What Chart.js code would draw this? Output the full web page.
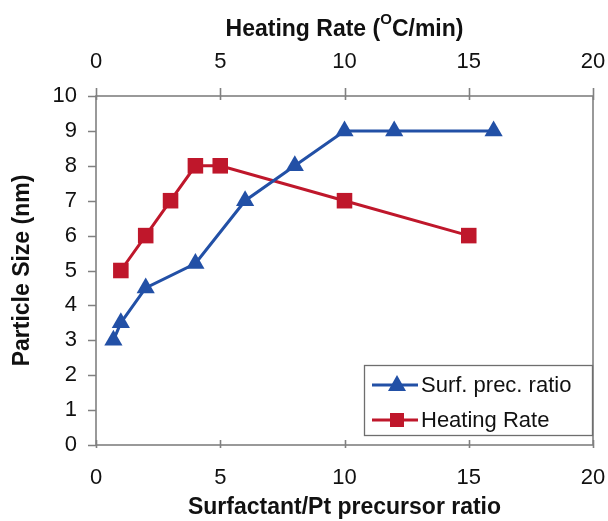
<!DOCTYPE html>
<html>
<head>
<meta charset="utf-8">
<script src="https://cdn.jsdelivr.net/npm/chart.js@4"></script>
<style>
html,body{margin:0;padding:0;background:#fff;}
#c{display:block;}
</style>
</head>
<body>
<canvas id="c" width="608" height="521"></canvas>
<script>
// Data
const surfLabel = "Surf. prec. ratio";
const surfX = [0.7, 1, 2, 4, 6, 8, 10, 12, 16];
const surfY = [3, 3.5, 4.5, 5.2, 7, 8, 9, 9, 9];
const heatLabel = "Heating Rate";
const heatX = [1, 2, 3, 4, 5, 10, 15];
const heatY = [5, 6, 7, 8, 8, 7, 6];
const xTicks = [0, 5, 10, 15, 20];
const yTicks = [0, 1, 2, 3, 4, 5, 6, 7, 8, 9, 10];
const xTitle = "Surfactant/Pt precursor ratio";
const yTitle = "Particle Size (nm)";
const topTitleParts = ["Heating Rate (", "O", "C/min)"];

const BLUE = "#2250a6";
const RED = "#bf172b";
const AXIS = "#808080";
const FONT = "'Liberation Sans', Arial, sans-serif";

const frameAndTicks = {
  id: 'frameAndTicks',
  afterDatasetsDraw(chart) {
    const {ctx, chartArea: a, scales} = chart;
    ctx.save();
    ctx.strokeStyle = AXIS;
    ctx.lineWidth = 1.6;
    ctx.strokeRect(a.left, a.top, a.right - a.left, a.bottom - a.top);
    ctx.beginPath();
    yTicks.forEach(v => {
      const y = Math.round(scales.y.getPixelForValue(v)) + 0.5;
      ctx.moveTo(a.left - 8, y); ctx.lineTo(a.left, y);
    });
    xTicks.forEach(v => {
      const x = Math.round(scales.x.getPixelForValue(v)) + 0.5;
      ctx.moveTo(x, a.bottom + 3); ctx.lineTo(x, a.bottom - 5);
      const x2 = Math.round(scales.x2.getPixelForValue(v)) + 0.5;
      ctx.moveTo(x2, a.top - 8); ctx.lineTo(x2, a.top + 4);
    });
    ctx.stroke();

    // Legend box
    const lx = 364, ly = 365, lw = 228, lh = 70;
    ctx.fillStyle = '#fff';
    ctx.fillRect(lx, ly, lw, lh);
    ctx.strokeStyle = '#6e6e6e';
    ctx.lineWidth = 1.3;
    ctx.strokeRect(lx + 0.5, ly + 0.5, lw, lh);
    const items = chart.data.datasets;
    items.forEach((ds, i) => {
      const cy = ly + 20 + i * 35;
      ctx.strokeStyle = ds.borderColor;
      ctx.lineWidth = 3;
      ctx.beginPath();
      ctx.moveTo(lx + 8, cy); ctx.lineTo(lx + 54, cy);
      ctx.stroke();
      ctx.fillStyle = ds.backgroundColor;
      const mx = lx + 33;
      if (ds.pointStyle === 'triangle') {
        ctx.beginPath();
        ctx.moveTo(mx, cy - 10);
        ctx.lineTo(mx + 9, cy + 6);
        ctx.lineTo(mx - 9, cy + 6);
        ctx.closePath();
        ctx.fill();
      } else {
        ctx.fillRect(mx - 7, cy - 7, 14, 14);
      }
      ctx.fillStyle = '#111';
      ctx.font = "22px " + FONT;
      ctx.textBaseline = 'middle';
      ctx.textAlign = 'left';
      ctx.fillText(ds.label, lx + 57, cy + 1);
    });

    // Top title with superscript
    ctx.fillStyle = '#111';
    ctx.textBaseline = 'alphabetic';
    const big = "bold 23px " + FONT, small = "bold 15px " + FONT;
    ctx.font = big; const w1 = ctx.measureText(topTitleParts[0]).width;
    const w3 = ctx.measureText(topTitleParts[2]).width;
    ctx.font = small; const w2 = ctx.measureText(topTitleParts[1]).width;
    const total = w1 + w2 + w3;
    let x = (a.left + a.right) / 2 - total / 2;
    const base = 36;
    ctx.font = big; ctx.textAlign = 'left';
    ctx.fillText(topTitleParts[0], x, base); x += w1;
    ctx.font = small; ctx.fillText(topTitleParts[1], x, base - 12); x += w2;
    ctx.font = big; ctx.fillText(topTitleParts[2], x, base);
    ctx.restore();
  }
};

new Chart(document.getElementById('c'), {
  type: 'line',
  data: {
    datasets: [
      {
        label: surfLabel,
        data: surfX.map((x, i) => ({x: x, y: surfY[i]})),
        xAxisID: 'x', yAxisID: 'y',
        borderColor: BLUE, backgroundColor: BLUE,
        borderWidth: 3, pointStyle: 'triangle', pointRadius: 10.5,
        pointBorderWidth: 0, tension: 0
      },
      {
        label: heatLabel,
        data: heatX.map((x, i) => ({x: x, y: heatY[i]})),
        xAxisID: 'x2', yAxisID: 'y',
        borderColor: RED, backgroundColor: RED,
        borderWidth: 3, pointStyle: 'rect', pointRadius: 11,
        pointBorderWidth: 0, tension: 0
      }
    ]
  },
  options: {
    responsive: false,
    animation: false,
    layout: {padding: {left: 0, right: 0, top: 0, bottom: 0}},
    plugins: {legend: {display: false}, tooltip: {enabled: false}},
    scales: {
      x: {
        type: 'linear', position: 'bottom', min: 0, max: 20,
        afterBuildTicks: s => { s.ticks = xTicks.map(v => ({value: v})); },
        afterFit: s => { s.height = 76; s.paddingRight = 15; s.paddingLeft = 0; },
        grid: {display: false, drawTicks: false},
        border: {display: false},
        ticks: {color: '#111', font: {size: 22, family: FONT}, padding: 20},
        title: {display: true, text: xTitle, color: '#111', font: {size: 23, weight: 'bold', family: FONT}, padding: {top: 0, bottom: 0}}
      },
      x2: {
        type: 'linear', position: 'top', min: 0, max: 20,
        afterBuildTicks: s => { s.ticks = xTicks.map(v => ({value: v})); },
        afterFit: s => { s.height = 96; s.paddingRight = 15; s.paddingLeft = 0; },
        grid: {display: false, drawTicks: false},
        border: {display: false},
        ticks: {color: '#111', font: {size: 22, family: FONT}, padding: 21}
      },
      y: {
        type: 'linear', min: 0, max: 10,
        afterBuildTicks: s => { s.ticks = yTicks.map(v => ({value: v})); },
        afterFit: s => { s.width = 96; s.paddingTop = 0; s.paddingBottom = 0; },
        grid: {display: false, drawTicks: false},
        border: {display: false},
        ticks: {color: '#111', font: {size: 22, family: FONT}, padding: 19},
        title: {display: true, text: yTitle, color: '#111', font: {size: 23, weight: 'bold', family: FONT}, padding: {top: 9, bottom: 0}}
      }
    }
  },
  plugins: [frameAndTicks]
});
</script>
</body>
</html>
